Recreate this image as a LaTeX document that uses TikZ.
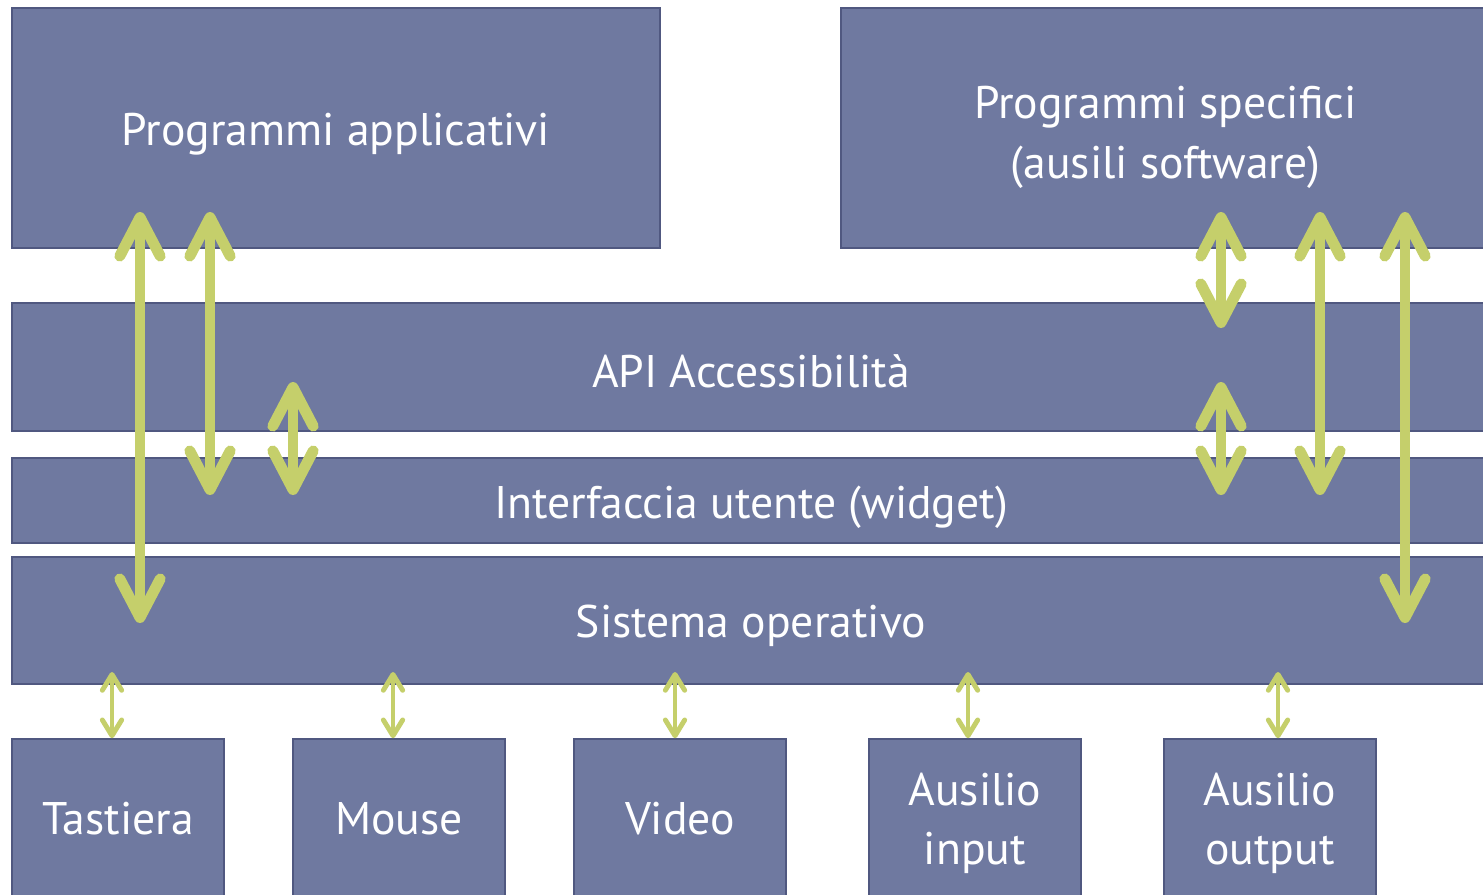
\documentclass[tikz,border=0pt]{standalone}
\usepackage{fontspec}
\setmainfont{PT Sans}
\usetikzlibrary{arrows.meta}
\definecolor{boxfill}{RGB}{111,121,160}
\definecolor{boxline}{RGB}{80,88,128}
\definecolor{arrowgreen}{RGB}{197,207,107}
\tikzset{
  box/.style={fill=boxfill, draw=boxline, line width=0.9pt, inner sep=0pt, text=white,
    font=\fontsize{26}{34}\selectfont, text depth=0pt},
  bigarr/.style={draw=arrowgreen, line width=6.2pt,
    {Straight Barb[length=22pt,width=23pt,line cap=round,line join=round]}-{Straight Barb[length=22pt,width=23pt,line cap=round,line join=round]}},
  smallarr/.style={draw=arrowgreen, line width=2.8pt,
    {Straight Barb[length=9pt,width=11pt,line cap=round,line join=round]}-{Straight Barb[length=9pt,width=11pt,line cap=round,line join=round]}}
}
\begin{document}
\begin{tikzpicture}[x=0.02cm,y=-0.02cm]
\useasboundingbox (0,0) rectangle (1483,894);
\clip (0,0) rectangle (1483,894);
% boxes (centre, width, height in px)
\node[box, text height=19.4pt, minimum width=648*0.02cm, minimum height=240*0.02cm] (app) at (336,128) {Programmi applicativi};
\node[box, align=center, font=\fontsize{26}{34}\selectfont, text height=57pt, minimum width=649*0.02cm, minimum height=240*0.02cm] (spec) at (1165.5,128) {Programmi specifici\\(ausili software)};
\node[box, text height=22.8pt, minimum width=1478*0.02cm, minimum height=128*0.02cm] (api) at (751,367) {API Accessibilità};
\node[box, text height=21pt, minimum width=1478*0.02cm, minimum height=85*0.02cm] (ui) at (751,500.5) {Interfaccia utente (widget)};
\node[box, text height=18.8pt, minimum width=1478*0.02cm, minimum height=127*0.02cm] (os) at (751,620.5) {Sistema operativo};
\node[box, text height=16pt, minimum width=212*0.02cm, minimum height=162*0.02cm] (kbd) at (118,820) {Tastiera};
\node[box, text height=16pt, minimum width=212*0.02cm, minimum height=162*0.02cm] (mouse) at (399,820) {Mouse};
\node[box, text height=16pt, minimum width=212*0.02cm, minimum height=162*0.02cm] (video) at (680,820) {Video};
\node[box, align=center, font=\fontsize{26}{33.6}\selectfont, text height=51pt, minimum width=212*0.02cm, minimum height=162*0.02cm] (ain) at (975,820) {Ausilio\\input};
\node[box, align=center, font=\fontsize{26}{33.6}\selectfont, text height=51pt, minimum width=212*0.02cm, minimum height=162*0.02cm] (aout) at (1270,820) {Ausilio\\output};
% arrow endpoints
\coordinate (a1t) at (140,212); \coordinate (a1b) at (140,623);
\coordinate (a2t) at (210,212); \coordinate (a2b) at (210,495);
\coordinate (a3t) at (293,382); \coordinate (a3b) at (293,495);
\coordinate (a4t) at (1221,212); \coordinate (a4b) at (1221,328);
\coordinate (a5t) at (1221,382); \coordinate (a5b) at (1221,495);
\coordinate (a6t) at (1320,212); \coordinate (a6b) at (1320,495);
\coordinate (a7t) at (1405,212); \coordinate (a7b) at (1405,623);
\draw[bigarr] (a1t) -- (a1b);
\draw[bigarr] (a2t) -- (a2b);
\draw[bigarr] (a3t) -- (a3b);
\draw[bigarr] (a4t) -- (a4b);
\draw[bigarr] (a5t) -- (a5b);
\draw[bigarr] (a6t) -- (a6b);
\draw[bigarr] (a7t) -- (a7b);
% small arrows
\coordinate (s1) at (112,672); \coordinate (s2) at (393,672); \coordinate (s3) at (675,672);
\coordinate (s4) at (968,672); \coordinate (s5) at (1278,672);
\draw[smallarr] (s1) -- (kbd.north -| s1);
\draw[smallarr] (s2) -- (mouse.north -| s2);
\draw[smallarr] (s3) -- (video.north -| s3);
\draw[smallarr] (s4) -- (ain.north -| s4);
\draw[smallarr] (s5) -- (aout.north -| s5);
\end{tikzpicture}
\end{document}
